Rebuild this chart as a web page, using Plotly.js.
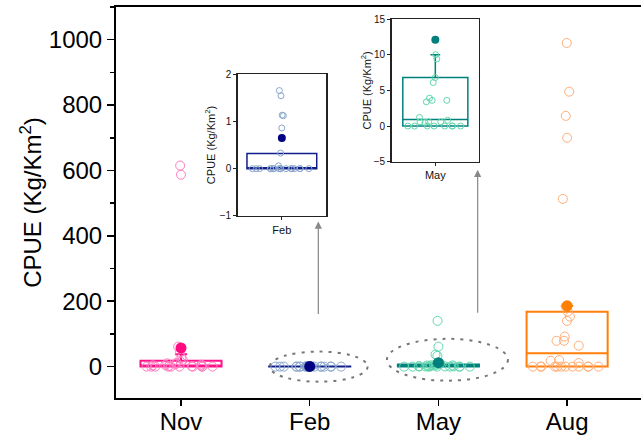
<!DOCTYPE html>
<html>
<head>
<meta charset="utf-8">
<script src="https://cdn.plot.ly/plotly-3.0.1.min.js"></script>
<style>html,body{margin:0;padding:0;background:#fff;}#chart{width:641px;height:438px;}</style>
</head>
<body>
<div id="chart"></div>
<script>
// ---- data ----
const categories = ['Nov', 'Feb', 'May', 'Aug'];
const novValues = [615, 587, 61, 43, 27, 20, 14, 12, 10, 8, 6, 5, 4, 3, 2, 1, 0, 0, 0, 0, 0, 0, 0, 0, 0, 0];
const febValues = [1.65, 1.54, 0.86, 1.13, 1.12, 0.33, 0.06, 0, 0, 0, 0, 0, 0, 0, 0, 0, 0, 0, 0, 0, 0, 0, 0, 0];
const mayValues = [140, 61, 37, 33, 10.0, 9.4, 6.8, 6.1, 3.9, 3.6, 3.6, 3.4, 1.2, 0.8, 0.6, 0.5, 0.6, 0.6, 0, 0, 0, 0, 0, 0, 0, 0];
const augValues = [990, 841, 767, 700, 513, 184, 168, 153, 140, 92, 79, 79, 64, 20, 18, 11, 0, 0, 0, 0, 0, 0, 0, 0, 0, 0, 0, 0];
const meanValues = [57, 0.65, 12.1, 186];
const q1Values = [0, 0, 0, 0];
const medianValues = [3, 0, 0.9, 41];
const q3Values = [18, 0.32, 6.8, 168];
const lowerFenceValues = [0, 0, 0, 0];
const upperFenceValues = [38, 0.32, 10, 186];
const yTickValues = [0, 200, 400, 600, 800, 1000];
const febInsetTicks = [-1, 0, 1, 2];
const mayInsetTicks = [-5, 0, 5, 10, 15];

// ---- styles ----
const seriesValues = [novValues, febValues, mayValues, augValues];
const boxColors = ['#FF138C', '#0F1E8C', '#00807D', '#FF7F0A'];
const meanColors = ['#FF0A80', '#000080', '#00807D', '#FF7F00'];
const pointColors = ['#FF7CC0', '#8AA6CE', '#5FD8AC', '#FFAE78'];
const FONT = 'Liberation Sans, Arial, sans-serif';

function statsBox(i, xa, ya, w, lw) {
  return {
    type: 'box', x: [categories[i]],
    q1: [q1Values[i]], median: [medianValues[i]], q3: [q3Values[i]],
    lowerfence: [lowerFenceValues[i]], upperfence: [upperFenceValues[i]],
    width: w, whiskerwidth: 0.15, boxpoints: false,
    line: {color: boxColors[i], width: lw}, fillcolor: 'rgba(0,0,0,0)',
    xaxis: xa, yaxis: ya, hoverinfo: 'skip'
  };
}
function pointsBox(i, xa, ya, w, size) {
  const vals = seriesValues[i];
  return {
    type: 'box', x: vals.map(() => categories[i]), y: vals,
    boxpoints: 'all', jitter: 1, pointpos: 0, width: w,
    line: {width: 0, color: 'rgba(0,0,0,0)'}, fillcolor: 'rgba(0,0,0,0)',
    marker: {symbol: 'circle-open', size: size, color: pointColors[i], line: {width: 1}},
    xaxis: xa, yaxis: ya, hoverinfo: 'skip'
  };
}
function meanDot(i, xa, ya, size) {
  return {
    type: 'scatter', mode: 'markers', x: [categories[i]], y: [meanValues[i]],
    marker: {size: size, color: meanColors[i]}, xaxis: xa, yaxis: ya, hoverinfo: 'skip'
  };
}

const traces = [];
for (let i = 0; i < 4; i++) {
  traces.push(statsBox(i, 'x', 'y', 0.63, 2));
  traces.push(pointsBox(i, 'x', 'y', 0.63, 9));
  traces.push(meanDot(i, 'x', 'y', 11));
}
// insets
traces.push(statsBox(1, 'x2', 'y2', 0.79, 1.5));
traces.push(pointsBox(1, 'x2', 'y2', 0.79, 6));
traces.push(meanDot(1, 'x2', 'y2', 8));
traces.push(statsBox(2, 'x3', 'y3', 0.745, 1.5));
traces.push(pointsBox(2, 'x3', 'y3', 0.745, 6));
traces.push(meanDot(2, 'x3', 'y3', 8));

const insetX = {type: 'category', range: [-0.5, 0.5], showline: true, mirror: true, linecolor: '#222', linewidth: 1.5,
  ticks: 'outside', ticklen: 3, tickcolor: '#222', tickfont: {size: 11, color: '#111', family: FONT}, showgrid: false, zeroline: false};
const insetY = {showline: true, mirror: true, linecolor: '#222', linewidth: 1.5, ticks: 'outside', ticklen: 3, tickcolor: '#222',
  tickfont: {size: 10, color: '#111', family: FONT}, showgrid: false, zeroline: false};

const layout = {
  width: 641, height: 438,
  margin: {l: 116, r: 0, t: 7, b: 40},
  paper_bgcolor: '#fff', plot_bgcolor: 'rgba(0,0,0,0)',
  showlegend: false, boxmode: 'overlay',
  font: {family: FONT, color: '#000'},
  xaxis: {type: 'category', categoryorder: 'array', categoryarray: categories, range: [-0.505, 3.574],
    showline: true, mirror: true, linecolor: '#000', linewidth: 2, ticks: 'outside', ticklen: 6, tickwidth: 1.5, tickcolor: '#000',
    tickfont: {size: 24, family: FONT}, ticklabelstandoff: -5, showgrid: false, zeroline: false},
  yaxis: {range: [-96, 1100], tickvals: yTickValues, showline: true, linecolor: '#000', linewidth: 2,
    ticks: 'outside', ticklen: 7, tickwidth: 1.5, tickcolor: '#000', tickfont: {size: 24, family: FONT},
    minor: {dtick: 100, ticks: 'outside', ticklen: 4, tickwidth: 1.5, tickcolor: '#000'},
    showgrid: false, zeroline: false,
    title: {text: 'CPUE (Kg/Km<sup>2</sup>)', font: {size: 24, family: FONT}, standoff: 0}},
  xaxis2: Object.assign({}, insetX, {domain: [0.2318, 0.40], anchor: 'y2'}),
  yaxis2: Object.assign({}, insetY, {domain: [0.4655, 0.8286], anchor: 'x2', range: [-1, 2], tickvals: febInsetTicks,
    title: {text: 'CPUE (Kg/Km<sup>2</sup>)', font: {size: 11, color: '#111', family: FONT}, standoff: 2}}),
  xaxis3: Object.assign({}, insetX, {domain: [0.5251, 0.6914], anchor: 'y3'}),
  yaxis3: Object.assign({}, insetY, {domain: [0.6043, 0.9693], anchor: 'x3', range: [-5, 15], tickvals: mayInsetTicks,
    title: {text: 'CPUE (Kg/Km<sup>2</sup>)', font: {size: 11, color: '#111', family: FONT}, standoff: 0}}),
  shapes: [
    {type: 'circle', xref: 'x', yref: 'y', x0: 0.69, x1: 1.45, y0: -46, y1: 46, line: {color: '#777', width: 2, dash: '3px,6px'}},
    {type: 'circle', xref: 'x', yref: 'y', x0: 1.60, x1: 2.54, y0: -43, y1: 85, line: {color: '#777', width: 2, dash: '3px,6px'}}
  ],
  annotations: [
    {xref: 'x', yref: 'y', axref: 'x', ayref: 'y', x: 1.067, y: 444, ax: 1.067, ay: 156, text: '', showarrow: true,
      arrowhead: 2, arrowsize: 1.2, arrowwidth: 1.2, arrowcolor: '#888', standoff: 0},
    {xref: 'x', yref: 'y', axref: 'x', ayref: 'y', x: 2.305, y: 602, ax: 2.305, ay: 160, text: '', showarrow: true,
      arrowhead: 2, arrowsize: 1.2, arrowwidth: 1.2, arrowcolor: '#888', standoff: 0}
  ]
};

Plotly.newPlot('chart', traces, layout, {displayModeBar: false, staticPlot: true});
</script>
</body>
</html>
